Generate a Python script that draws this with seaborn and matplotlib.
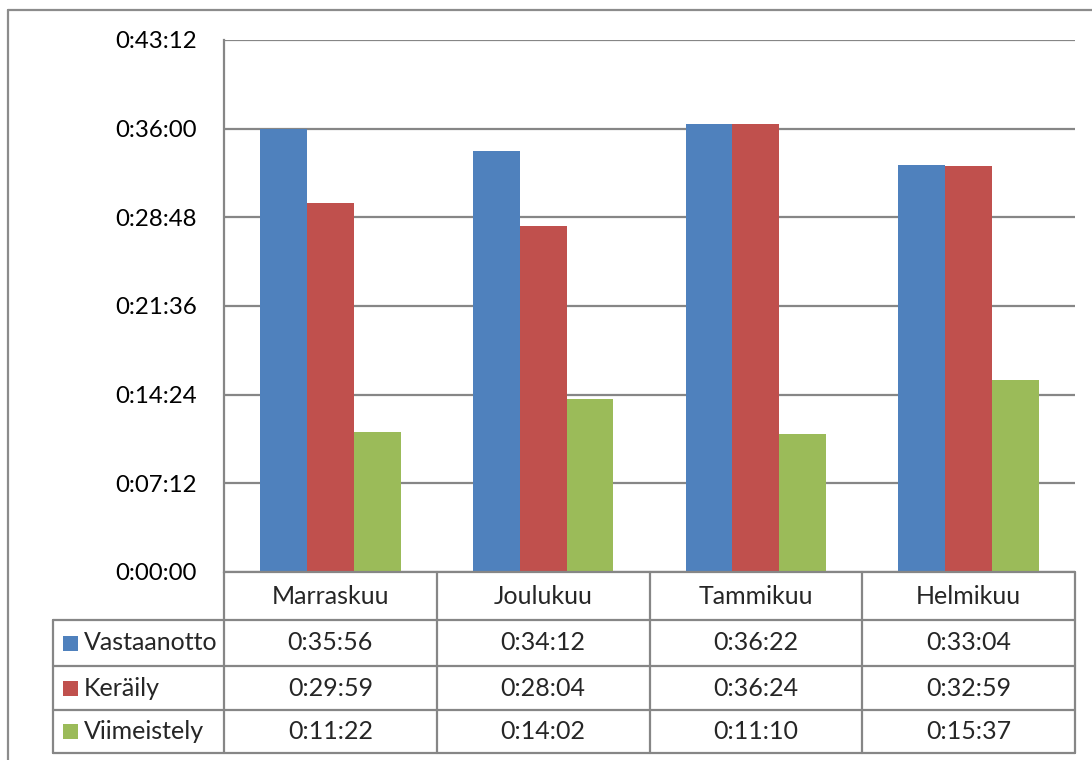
import matplotlib
matplotlib.use("Agg")
import matplotlib.pyplot as plt
from matplotlib.ticker import FixedLocator, FuncFormatter
from matplotlib.patches import Rectangle
from matplotlib.lines import Line2D
import pandas as pd
import seaborn as sns

# Data: durations per month, in h:mm:ss
months = ["Marraskuu", "Joulukuu", "Tammikuu", "Helmikuu"]
series = ["Vastaanotto", "Keräily", "Viimeistely"]
vastaanotto = ["0:35:56", "0:34:12", "0:36:22", "0:33:04"]
keraily = ["0:29:59", "0:28:04", "0:36:24", "0:32:59"]
viimeistely = ["0:11:22", "0:14:02", "0:11:10", "0:15:37"]
y_ticks = ["0:00:00", "0:07:12", "0:14:24", "0:21:36", "0:28:48", "0:36:00", "0:43:12"]

colors = ["#4F81BD", "#C0504D", "#9BBB59"]
grid_col = "#868686"


def to_seconds(s):
    h, m, sec = (int(p) for p in s.split(":"))
    return h * 3600 + m * 60 + sec


def fmt_hms(v, pos=None):
    v = int(round(v))
    return f"{v // 3600}:{(v % 3600) // 60:02d}:{v % 60:02d}"


rows = {"Vastaanotto": vastaanotto, "Keräily": keraily, "Viimeistely": viimeistely}
records = []
for name, vals in rows.items():
    for month, val in zip(months, vals):
        records.append({"month": month, "series": name, "seconds": to_seconds(val)})
df = pd.DataFrame(records)

sns.set_theme(style="white")
plt.rcParams["font.family"] = ["Lato", "DejaVu Sans"]

W, H = 1092, 760
fig = plt.figure(figsize=(W / 100, H / 100), dpi=100)

# plot area
left, right, top, bottom = 224, 1075, 40, 572
ax = fig.add_axes([left / W, 1 - bottom / H, (right - left) / W, (bottom - top) / H])

sns.barplot(data=df, x="month", y="seconds", hue="series", order=months,
            hue_order=series, palette=colors, width=0.66, gap=0,
            errorbar=None, saturation=1, legend=False, ax=ax, linewidth=0)

tick_vals = [to_seconds(t) for t in y_ticks]
ax.set_ylim(tick_vals[0], tick_vals[-1])
ax.set_xlim(-0.5, len(months) - 0.5)
ax.yaxis.set_major_locator(FixedLocator(tick_vals))
ax.yaxis.set_major_formatter(FuncFormatter(fmt_hms))
ax.tick_params(axis="y", labelsize=17.3, length=0, pad=19.5, colors="black")
ax.set_xticks([])
ax.set_xlabel("")
ax.set_ylabel("")
ax.yaxis.grid(True, color=grid_col, linewidth=1.6)
ax.set_axisbelow(True)
for side in ["top", "right", "bottom"]:
    ax.spines[side].set_visible(False)
ax.spines["left"].set_color(grid_col)
ax.spines["left"].set_linewidth(1.6)


# data table below the plot area (figure pixel layout)
def fx(px):
    return px / W


def fy(py):
    return 1 - py / H


row_y = [572, 620, 666, 710, 753]
col_x = [left + (right - left) * i / len(months) for i in range(len(months) + 1)]
label_left = 53
lw = 1.6
table_fs = 18

lines = []
for x in col_x:
    lines.append(([x, x], [row_y[0], row_y[-1]]))
lines.append(([left, right], [row_y[0], row_y[0]]))
for y in row_y[1:]:
    lines.append(([label_left, right], [y, y]))
lines.append(([label_left, label_left], [row_y[1], row_y[-1]]))
for xs, ys in lines:
    fig.add_artist(Line2D([fx(v) for v in xs], [fy(v) for v in ys],
                          color=grid_col, linewidth=lw))

for i, month in enumerate(months):
    cx = (col_x[i] + col_x[i + 1]) / 2
    fig.text(fx(cx), fy((row_y[0] + row_y[1]) / 2), month, ha="center",
             va="center", fontsize=table_fs)

for r, name in enumerate(series):
    yc = (row_y[r + 1] + row_y[r + 2]) / 2
    sq = 15
    fig.add_artist(Rectangle((fx(63), fy(yc + sq / 2)), sq / W, sq / H,
                             facecolor=colors[r], edgecolor="none"))
    fig.text(fx(84), fy(yc), name, ha="left", va="center", fontsize=table_fs)
    for i, val in enumerate(rows[name]):
        cx = (col_x[i] + col_x[i + 1]) / 2
        fig.text(fx(cx), fy(yc), fmt_hms(to_seconds(val)), ha="center",
                 va="center", fontsize=table_fs)

# outer chart frame
fig.add_artist(Line2D([fx(8), fx(8)], [fy(10), 0], color="#8c8c8c", linewidth=1.6))
fig.add_artist(Line2D([fx(8), 1], [fy(10), fy(10)], color="#8c8c8c", linewidth=1.6))

fig.savefig("out.png", dpi=100)
